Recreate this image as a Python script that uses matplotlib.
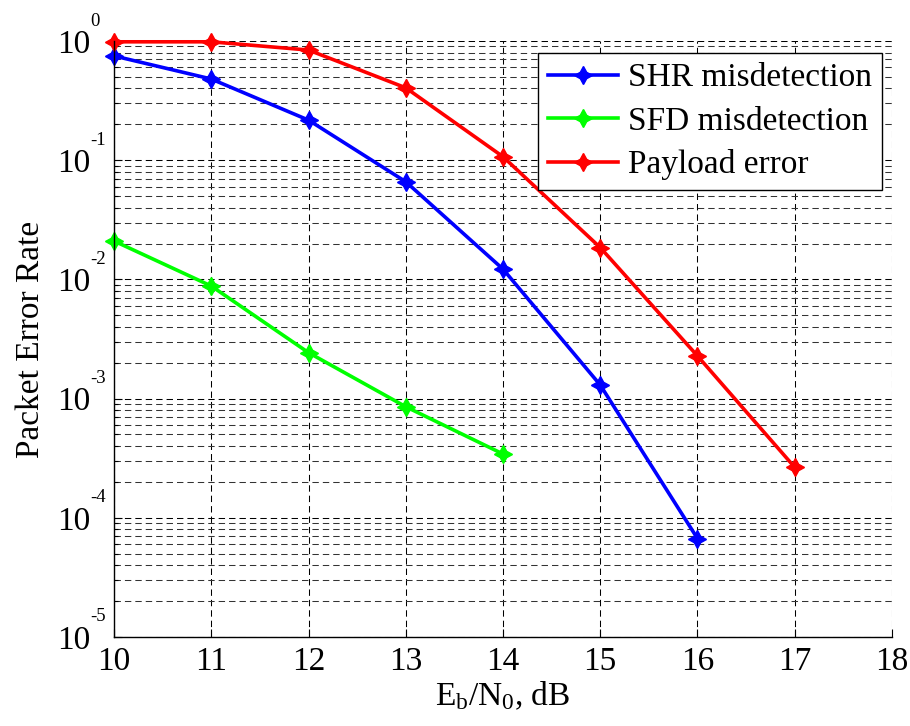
import matplotlib
matplotlib.use("Agg")
import matplotlib.pyplot as plt
from matplotlib.ticker import LogLocator, NullFormatter

# Packet error rate vs Eb/N0
ebn0_shr = [10, 11, 12, 13, 14, 15, 16]
per_shr = [0.75, 0.48, 0.217, 0.066, 0.0122, 0.0013, 6.7e-5]

ebn0_sfd = [10, 11, 12, 13, 14]
per_sfd = [0.021, 0.0088, 0.00243, 0.000855, 0.000343]

ebn0_payload = [10, 11, 12, 13, 14, 15, 16, 17]
per_payload = [0.985, 0.985, 0.84, 0.405, 0.107, 0.0185, 0.00228, 0.000265]

series_labels = ["SHR misdetection", "SFD misdetection", "Payload error"]
x_ticks = [10, 11, 12, 13, 14, 15, 16, 17, 18]
y_exponents = [-5, -4, -3, -2, -1, 0]

plt.rcParams["font.family"] = ["Liberation Serif", "DejaVu Serif"]
plt.rcParams["mathtext.fontset"] = "custom"
plt.rcParams["mathtext.rm"] = "Liberation Serif"
plt.rcParams["mathtext.it"] = "Liberation Serif"
plt.rcParams["lines.scale_dashes"] = False

fig = plt.figure(figsize=(9.10, 7.26), dpi=100)
ax = fig.add_axes([0.1253, 0.1226, 0.8549, 0.8209])

star = (4, 1, 0)
style = dict(lw=2.6, marker=star, markersize=13, markeredgewidth=1.0, clip_on=False)
ax.plot(ebn0_shr, per_shr, color="#0000ff", label=series_labels[0], **style)
ax.plot(ebn0_sfd, per_sfd, color="#00ff00", label=series_labels[1], **style)
ax.plot(ebn0_payload, per_payload, color="#ff0000", label=series_labels[2], **style)

ax.set_yscale("log")
ax.set_xlim(x_ticks[0], x_ticks[-1])
ax.set_ylim(10.0 ** y_exponents[0], 10.0 ** y_exponents[-1])
ax.set_xticks(x_ticks)
ax.set_xticklabels([str(t) for t in x_ticks])

# y tick labels: "10" as the tick label, exponent drawn as a raised small text
yt = [10.0 ** e for e in y_exponents]
ax.set_yticks(yt)
ax.set_yticklabels(["10"] * len(yt))
ax.yaxis.set_minor_locator(LogLocator(base=10, subs=range(2, 10), numticks=20))
ax.yaxis.set_minor_formatter(NullFormatter())
for e, v in zip(y_exponents, yt):
    ax.annotate(str(e), xy=(0, v), xycoords=ax.get_yaxis_transform(),
                xytext=(-24, 20), textcoords="offset pixels",
                ha="left", va="center", fontsize=13.5, annotation_clip=False)

ax.tick_params(axis="both", which="major", direction="in", length=6,
               width=0.8, labelsize=24, colors="black")
ax.tick_params(axis="y", which="major", pad=17)
ax.tick_params(axis="x", which="major", pad=7)
ax.tick_params(axis="y", which="minor", direction="in", length=3, width=0.8)
ax.tick_params(top=False, right=False, which="both")

dash = (0, (4.6, 2.9))
ax.grid(True, which="major", axis="both", color="black", lw=0.75, linestyle=dash)
ax.grid(True, which="minor", axis="y", color="#333333", lw=0.75, linestyle=dash)
ax.set_axisbelow(True)

for side in ("top", "right"):
    ax.spines[side].set_visible(False)
for side in ("left", "bottom"):
    ax.spines[side].set_linewidth(1.0)
    ax.spines[side].set_color("black")

ax.set_xlabel(r"$\mathregular{E_b/N_0}$, dB", fontsize=24, labelpad=2)
ax.set_ylabel("Packet Error Rate", fontsize=24, labelpad=8)

leg = ax.legend(loc="upper right", bbox_to_anchor=(0.9871, 0.9799),
                borderaxespad=0, fontsize=24, frameon=True, fancybox=False,
                handlelength=2.1, handletextpad=0.3, labelspacing=0.38,
                borderpad=0.3, edgecolor="black", framealpha=1.0)
leg.get_frame().set_linewidth(1.0)

fig.savefig("out.png", dpi=100, facecolor="white")
